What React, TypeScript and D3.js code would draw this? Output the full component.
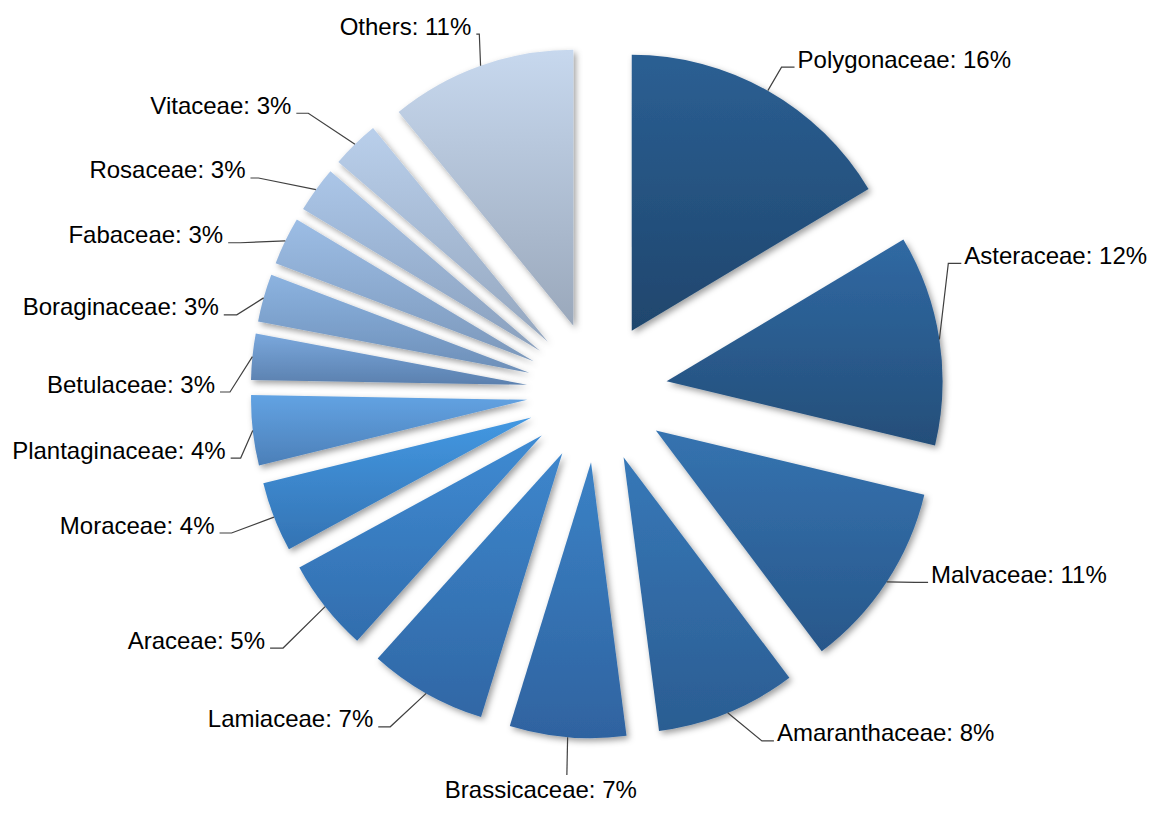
import React from 'react';
import * as d3 from 'd3';

// ---- data ----
const categories = [
  'Polygonaceae', 'Asteraceae', 'Malvaceae', 'Amaranthaceae', 'Brassicaceae',
  'Lamiaceae', 'Araceae', 'Moraceae', 'Plantaginaceae', 'Betulaceae',
  'Boraginaceae', 'Fabaceae', 'Rosaceae', 'Vitaceae', 'Others',
];
const shares = [16.4, 12.3, 11.0, 8.2, 6.8, 6.9, 5.4, 4.1, 4.1, 2.7, 2.8, 2.8, 2.7, 2.8, 10.9];

// ---- styles ----
const topColors = [
  '#2b5f93', '#3069a3', '#3573b0', '#3778b8', '#3b82c6', '#3d86cc', '#3f8bd3',
  '#4398e2', '#62a3e3', '#7aa8dd', '#8cb3e0', '#9cbde5', '#abc6e8', '#b9cfeb', '#c7d8ee',
];
const bottomColors = [
  '#1f466d', '#244e79', '#28578a', '#2b5d92', '#2f63a0', '#3067a5', '#326dad',
  '#3473b3', '#4c7fb8', '#5b80ae', '#6d8fb8', '#7c98bb', '#8aa0bd', '#95a7bf', '#9aa8bb',
];

// ---- label layout: leader elbow in polar coords around the pie centre ----
const labelAngle = [29.6, 69.9, 120.9, 154.7, 184.5, 211.7, 230.8, 248.9, 259.5, 270.0, 282.1, 292.7, 302.3, 314.0, 341.8];
const labelRadius = [373.6, 374.1, 370.7, 385.9, 384.2, 393.5, 405.1, 391.7, 362.4, 367, 368.4, 386.8, 400.5, 401.3, 376.8];
const labelSide = ['r', 'r', 'r', 'r', 'b', 'l', 'l', 'l', 'l', 'l', 'l', 'l', 'l', 'l', 'l'];
const labelSeg = [13, 13, 13, 12, 0, 12, 13, 12, 10, 10, 13, 12, 8, 12, 3];

const W = 1160;
const H = 814;
const cx = 597;
const cy = 392;
const R = 276;
const explode = 70.4;

export default function App() {
  const total = d3.sum(shares);
  const pie = d3.pie<number>().sort(null).value((d) => d).startAngle(0).endAngle(2 * Math.PI);
  const arcs = pie(shares);
  const arc = d3.arc<d3.PieArcDatum<number>>().innerRadius(0).outerRadius(R);
  const fmt = (v: number) => `${Math.round((v / total) * 100)}%`;

  return (
    <svg
      width={W}
      height={H}
      style={{ position: 'absolute', left: 0, top: 0, background: '#fff' }}
      fontFamily="'Liberation Sans', Arial, sans-serif"
    >
      <defs>
        {arcs.map((a, i) => (
          <linearGradient key={i} id={`g${i}`} x1="0" y1="0" x2="0" y2="1">
            <stop offset="0" stopColor={topColors[i]} />
            <stop offset="1" stopColor={bottomColors[i]} />
          </linearGradient>
        ))}
        <filter id="sh" x="-20%" y="-20%" width="140%" height="140%">
          <feDropShadow dx="2.5" dy="3" stdDeviation="3" floodColor="#000" floodOpacity="0.38" />
        </filter>
      </defs>
      <rect width={W} height={H} fill="#fff" />
      {arcs.map((a, i) => {
        const mid = (a.startAngle + a.endAngle) / 2;
        const ox = cx + explode * Math.sin(mid);
        const oy = cy - explode * Math.cos(mid);
        return (
          <path
            key={i}
            d={arc(a) || ''}
            transform={`translate(${ox},${oy})`}
            fill={`url(#g${i})`}
            filter="url(#sh)"
          />
        );
      })}
      {arcs.map((a, i) => {
        const mid = (a.startAngle + a.endAngle) / 2;
        const sx = cx + (explode + R) * Math.sin(mid);
        const sy = cy - (explode + R) * Math.cos(mid);
        const la = (labelAngle[i] * Math.PI) / 180;
        const ex = cx + labelRadius[i] * Math.sin(la);
        const ey = cy - labelRadius[i] * Math.cos(la);
        const side = labelSide[i];
        const text = `${categories[i]}: ${fmt(shares[i])}`;
        let hx = ex;
        let tx = ex;
        let ty = ey;
        let anchor: 'start' | 'end' | 'middle' = 'start';
        if (side === 'r') {
          hx = ex + labelSeg[i];
          tx = hx + 3;
          ty = ey + 0.5;
          anchor = 'start';
        } else if (side === 'l') {
          hx = ex - labelSeg[i];
          tx = hx - 5;
          ty = ey + 0.5;
          anchor = 'end';
        } else {
          hx = ex;
          tx = ex - 26;
          ty = ey + 23;
          anchor = 'middle';
        }
        return (
          <g key={i}>
            <polyline
              points={`${sx},${sy} ${ex},${ey} ${hx},${ey}`}
              fill="none"
              stroke="#404040"
              strokeWidth={1.2}
            />
            <text x={tx} y={ty} fontSize={24} fill="#000" textAnchor={anchor}>
              {text}
            </text>
          </g>
        );
      })}
    </svg>
  );
}
